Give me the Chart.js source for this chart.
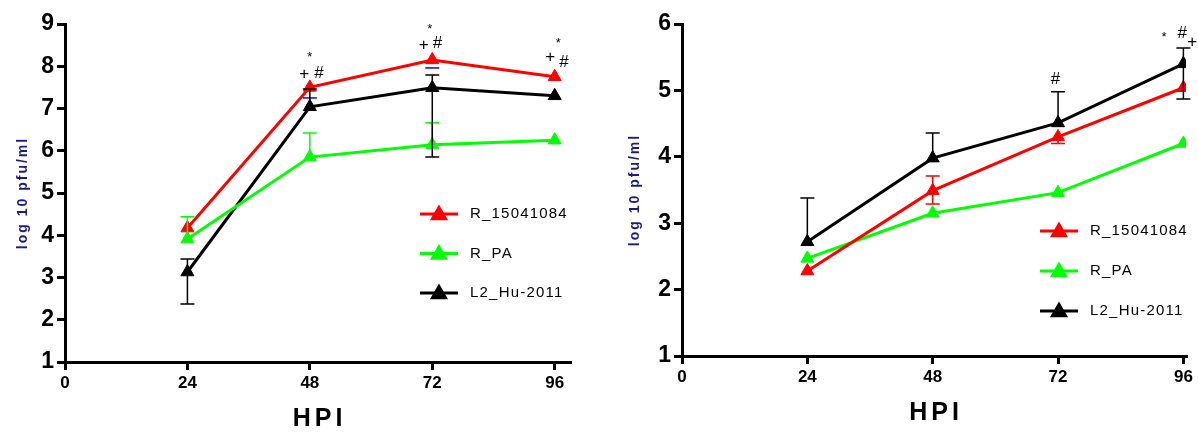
<!DOCTYPE html>
<html>
<head>
<meta charset="utf-8">
<script src="https://cdn.jsdelivr.net/npm/chart.js"></script>
<style>
body{margin:0;background:#fff;}
#wrap{position:relative;width:1198px;height:433px;}
canvas{position:absolute;top:0;}
</style>
</head>
<body>
<div id="wrap">
  <canvas id="c1" width="600" height="433" style="left:0"></canvas>
  <canvas id="c2" width="598" height="433" style="left:600px"></canvas>
</div>
<script>
///shared categories
var hpi = [24, 48, 72, 96];
var xTicks = [0, 24, 48, 72, 96];
var seriesNames = ['R_15041084', 'R_PA', 'L2_Hu-2011'];
var seriesColors = ['#ff0000', '#00ff00', '#000000'];

///left panel values (log10 pfu/ml)
var a_red = [4.17, 7.5, 8.15, 7.75];
var a_green = [3.91, 5.85, 6.14, 6.25];
var a_black = [3.13, 7.04, 7.49, 7.3];
//error bar ends, null = not drawn
var a_red_lo = [null, 7.25, 7.96, null];
var a_green_hi = [4.44, 6.42, 6.66, null];
var a_black_hi = [3.44, 7.46, 7.79, null];
var a_black_lo = [2.37, null, 5.85, null];
//significance marks
var a_mark_x = [48, 46.9, 49.8, 71.5, 70.3, 73.0, 96.7, 95.1, 97.8];
var a_mark_y = [8.22, 7.82, 7.84, 8.86, 8.5, 8.55, 8.55, 8.22, 8.1];
var a_mark_t = ['*', '+', '#', '*', '+', '#', '*', '+', '#'];

///right panel values
var b_red = [2.28, 3.49, 4.3, 5.04];
var b_green = [2.47, 3.15, 3.46, 4.2];
var b_black = [2.72, 3.98, 4.51, 5.4];
var b_red_hi = [null, 3.71, null, null];
var b_red_lo = [null, 3.29, 4.2, null];
var b_black_hi = [3.38, 4.36, 4.98, 5.64];
var b_black_lo = [null, null, null, 4.87];
var b_mark_x = [71.5, 92.3, 95.8, 97.7];
var b_mark_y = [5.17, 5.8, 5.86, 5.73];
var b_mark_t = ['#', '*', '#', '+'];

var tickFont = "'Liberation Sans Narrow', 'Liberation Sans', Arial, sans-serif";

//error bars drawn through the scales
var errorBars = {
    id: 'errorBars',
    afterDatasetsDraw: function(chart, args, opts) {
        var ctx = chart.ctx, xs = chart.scales.x, ys = chart.scales.y;
        ctx.save();
        opts.bars.forEach(function(b) {
            ctx.strokeStyle = b.color;
            ctx.lineWidth = 1.5;
            hpi.forEach(function(h, i) {
                var x = xs.getPixelForValue(h);
                var y0 = ys.getPixelForValue(b.mean[i]);
                [b.hi[i], b.lo[i]].forEach(function(v) {
                    if (v == null) return;
                    var y = ys.getPixelForValue(v);
                    ctx.beginPath();
                    if (b.stem !== false) { ctx.moveTo(x, y0); ctx.lineTo(x, y); }
                    ctx.moveTo(x - 7, y); ctx.lineTo(x + 7, y);
                    ctx.stroke();
                });
            });
        });
        ctx.restore();
    }
};

//marks, legend and axis titles
var extras = {
    id: 'extras',
    afterDraw: function(chart, args, opts) {
        var ctx = chart.ctx, xs = chart.scales.x, ys = chart.scales.y, ca = chart.chartArea;
        ctx.save();
        ctx.fillStyle = '#000';
        ctx.textAlign = 'center';
        ctx.textBaseline = 'middle';
        opts.mark_t.forEach(function(t, i) {
            ctx.font = (t == '*' ? '13px' : '17px') + " 'Liberation Sans', Arial, sans-serif";
            ctx.fillText(t, xs.getPixelForValue(opts.mark_x[i]), ys.getPixelForValue(opts.mark_y[i]));
        });
        //legend
        var lx = ca.left + opts.legX, ly = ca.top + opts.legY;
        chart.data.datasets.forEach(function(ds, i) {
            var y = ly + i * opts.legGap;
            ctx.strokeStyle = ds.borderColor;
            ctx.lineWidth = 3;
            ctx.beginPath(); ctx.moveTo(lx, y); ctx.lineTo(lx + 38, y); ctx.stroke();
            ctx.fillStyle = ds.borderColor;
            Chart.helpers.drawPoint(ctx, {pointStyle: 'triangle', radius: 7.5, borderWidth: 1}, lx + 19, y + 1);
            ctx.fillStyle = '#000';
            ctx.textAlign = 'left';
            ctx.font = "15px 'Liberation Sans', Arial, sans-serif";
            ctx.letterSpacing = '1.2px';
            ctx.fillText(ds.label, lx + 50, y);
        });
        //x title
        ctx.letterSpacing = '4px';
        ctx.textAlign = 'center';
        ctx.font = "bold 25px 'Liberation Sans', Arial, sans-serif";
        ctx.fillText('HPI', (ca.left + ca.right) / 2 + 2, opts.titleY);
        //y title
        ctx.translate(opts.yTitleX, (ca.top + ca.bottom) / 2);
        ctx.rotate(-Math.PI / 2);
        ctx.letterSpacing = '2px';
        ctx.fillStyle = '#1a1a8c';
        ctx.font = "bold 14px 'Liberation Sans', Arial, sans-serif";
        ctx.fillText('log 10 pfu/ml', 0, 0);
        ctx.restore();
    }
};

function make_chart(id, vals, yMin, yMax, xMax, yWidth, xHeight, padRight, bars, opts) {
    var ds = seriesNames.map(function(n, i) {
        return {
            label: n,
            data: hpi.map(function(h, j) { return {x: h, y: vals[i][j]}; }),
            borderColor: seriesColors[i],
            backgroundColor: seriesColors[i],
            borderWidth: 3,
            pointStyle: 'triangle',
            pointRadius: 7.5,
            pointBorderWidth: 1,
            tension: 0
        };
    });
    opts.bars = bars;
    return new Chart(document.getElementById(id), {
        type: 'line',
        data: {datasets: ds},
        plugins: [errorBars, extras],
        options: {
            responsive: false,
            animation: false,
            layout: {padding: {top: 24, right: padRight, left: 0, bottom: 0}},
            plugins: {
                legend: {display: false},
                tooltip: {enabled: false},
                errorBars: {bars: bars},
                extras: opts
            },
            scales: {
                x: {
                    type: 'linear', min: 0, max: xMax,
                    afterBuildTicks: function(s) { s.ticks = xTicks.map(function(v) { return {value: v}; }); },
                    afterFit: function(s) { s.height = xHeight; },
                    border: {color: '#000', width: 3},
                    grid: {drawOnChartArea: false, color: '#000', lineWidth: 3, tickLength: 8},
                    ticks: {color: '#000', padding: 3, font: {family: tickFont, size: 17, weight: 'bold'}, maxRotation: 0}
                },
                y: {
                    min: yMin, max: yMax,
                    afterFit: function(s) { s.width = yWidth; },
                    border: {color: '#000', width: 3},
                    grid: {drawOnChartArea: false, color: '#000', lineWidth: 3, tickLength: 8},
                    ticks: {color: '#000', stepSize: 1, padding: 3, font: {family: tickFont, size: 23, weight: 'bold'}}
                }
            }
        }
    });
}

make_chart('c1', [a_red, a_green, a_black], 1, 9, 99, 65, 71, 30,
    [
        {mean: a_red, hi: [null, null, null, null], lo: a_red_lo, color: '#0000ff', stem: false},
        {mean: a_green, hi: a_green_hi, lo: [null, null, null, null], color: '#00ff00'},
        {mean: a_black, hi: a_black_hi, lo: a_black_lo, color: '#000000'}
    ],
    {mark_x: a_mark_x, mark_y: a_mark_y, mark_t: a_mark_t, legX: 355, legY: 190, legGap: 39.5, titleY: 419, yTitleX: 23});

make_chart('c2', [b_red, b_green, b_black], 1, 6, 96.5, 82, 77, 12,
    [
        {mean: b_red, hi: b_red_hi, lo: b_red_lo, color: '#ff0000'},
        {mean: b_black, hi: b_black_hi, lo: b_black_lo, color: '#000000'}
    ],
    {mark_x: b_mark_x, mark_y: b_mark_y, mark_t: b_mark_t, legX: 358, legY: 207, legGap: 40, titleY: 413, yTitleX: 35});
</script>
</body>
</html>
